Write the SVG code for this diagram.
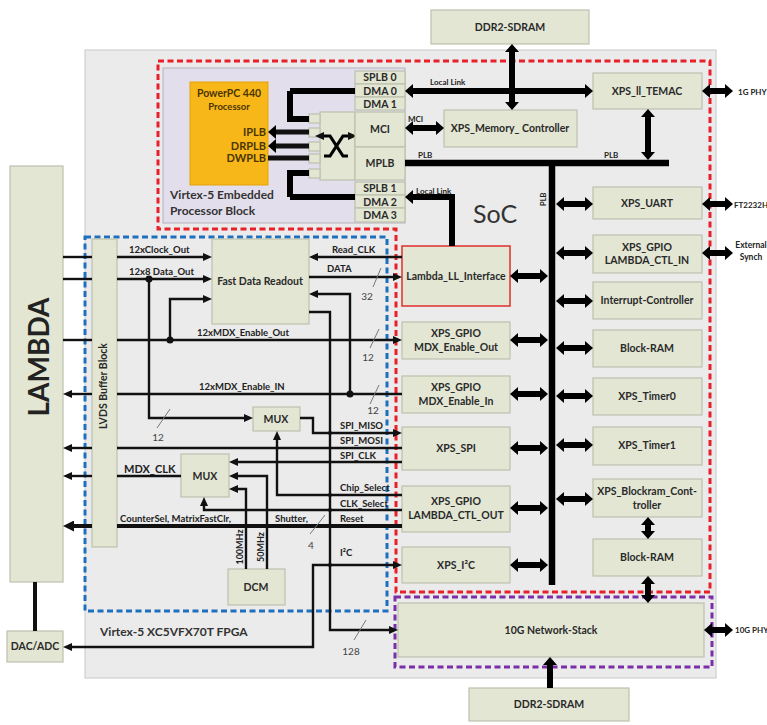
<svg xmlns="http://www.w3.org/2000/svg" width="767" height="725" viewBox="0 0 767 725">
<defs>
<style>
.box{fill:#E2E6D3;stroke:#BDC1AE;stroke-width:1.2}
.t{font-family:Lato,"Liberation Sans",sans-serif;font-weight:bold;font-size:10.5px;fill:#2a2a2a;text-anchor:middle}
.s{font-family:Lato,"Liberation Sans",sans-serif;font-weight:bold;font-size:9.5px;fill:#222}
.n{font-family:Lato,"Liberation Sans",sans-serif;font-size:10px;fill:#444;text-anchor:middle}
.w{fill:none;stroke:#111;stroke-width:2.4}
.wt{fill:none;stroke:#111;stroke-width:4}
.b{fill:none;stroke:#000;stroke-width:6.5}
.da{fill:none;stroke:#000;stroke-width:6;marker-start:url(#hb);marker-end:url(#hb)}
.sl{stroke:#777;stroke-width:1}
</style>
<marker id="hb" viewBox="0 0 8 14" refX="0" refY="7" markerWidth="8" markerHeight="14" markerUnits="userSpaceOnUse" orient="auto-start-reverse"><path d="M0,0 L8,7 L0,14 z" fill="#000"/></marker>
<marker id="ht" viewBox="0 0 9 8" refX="0" refY="4" markerWidth="9" markerHeight="8" markerUnits="userSpaceOnUse" orient="auto-start-reverse"><path d="M0,0 L9,4 L0,8 z" fill="#111"/></marker>
<marker id="hT" viewBox="0 0 11 11" refX="0" refY="5.5" markerWidth="11" markerHeight="11" markerUnits="userSpaceOnUse" orient="auto-start-reverse"><path d="M0,0 L11,5.5 L0,11 z" fill="#111"/></marker>
</defs>
<rect width="767" height="725" fill="#fff"/>

<!-- FPGA background -->
<g id="fpga">
<rect x="85" y="50" width="631" height="628" fill="#EBEBEB" stroke="#CFCFCF" stroke-width="1.2"/>
<text x="100" y="636" class="s" style="font-size:12px;fill:#333">Virtex-5 XC5VFX70T FPGA</text>
</g>

<!-- Processor block -->
<g id="processor-block">
<rect x="163" y="68" width="242" height="155" fill="#E3DEEB" stroke="#B5B0BD" stroke-width="1"/>
<text x="170" y="199" class="s" style="font-size:12px;fill:#333">Virtex-5 Embedded</text>
<text x="170" y="215" class="s" style="font-size:12px;fill:#333">Processor Block</text>
</g>
<g id="ppc440">
<rect x="190" y="82" width="78" height="103" fill="#F8B719" stroke="#E3A20C" stroke-width="1"/>
<text x="229" y="97" class="t" style="fill:#4a3500">PowerPC 440</text>
<text x="229" y="110" class="t" style="font-size:9.5px;fill:#4a3500">Processor</text>
<text x="266" y="136" class="t" style="text-anchor:end;fill:#4a3500;font-size:11px">IPLB</text>
<text x="266" y="150" class="t" style="text-anchor:end;fill:#4a3500;font-size:11px">DRPLB</text>
<text x="266" y="162" class="t" style="text-anchor:end;fill:#4a3500;font-size:11px">DWPLB</text>
</g>
<g id="crossbar">
<rect x="320" y="112" width="35" height="68" class="box"/>
<rect x="309" y="114" width="11" height="9" class="box"/>
<rect x="309" y="128" width="11" height="9" class="box"/>
<rect x="309" y="142" width="11" height="9" class="box"/>
<rect x="309" y="154" width="11" height="9" class="box"/>
<rect x="309" y="169" width="11" height="9" class="box"/>
<path d="M324,136 H330 L343,156 H348 M324,156 H330 L343,136 H348" fill="none" stroke="#000" stroke-width="3.2" marker-start="url(#ht)" marker-end="url(#ht)"/>
</g>
<g id="mci"><rect x="355" y="112" width="50" height="35" class="box"/><text x="380" y="133" class="t">MCI</text></g>
<g id="mplb"><rect x="355" y="147" width="50" height="33" class="box"/><text x="380" y="167" class="t">MPLB</text></g>
<g id="splb0"><rect x="355" y="71" width="50" height="13" class="box"/><text x="380" y="81" class="t">SPLB 0</text></g>
<g id="dma0"><rect x="355" y="84" width="50" height="13" class="box"/><text x="380" y="94.5" class="t">DMA 0</text></g>
<g id="dma1"><rect x="355" y="97" width="50" height="13" class="box"/><text x="380" y="107.5" class="t">DMA 1</text></g>
<g id="splb1"><rect x="355" y="182" width="50" height="13" class="box"/><text x="380" y="192" class="t">SPLB 1</text></g>
<g id="dma2"><rect x="355" y="195" width="50" height="13" class="box"/><text x="380" y="205.5" class="t">DMA 2</text></g>
<g id="dma3"><rect x="355" y="208" width="50" height="14" class="box"/><text x="380" y="219" class="t">DMA 3</text></g>

<!-- dashed regions -->
<g id="regions" fill="none" stroke-width="3" stroke-dasharray="6 3.5">
<path d="M158,61 H710 V592 H396 V229 H158 Z" stroke="#E8202A"/>
<path d="M85,237 H387 V611 H85 Z" stroke="#1F6FBF"/>
<path d="M395,597 H712 V667 H395 Z" stroke="#7A2FA8"/>
</g>
<text x="473" y="223" style="font-family:Lato,'Liberation Sans',sans-serif;font-size:25px;fill:#333">SoC</text>

<!-- external nodes -->
<g id="lambda"><rect x="10" y="166" width="53" height="416" class="box"/><text transform="translate(49,357) rotate(-90)" class="t" style="font-size:28px;fill:#222">LAMBDA</text></g>
<g id="dac-adc"><rect x="7" y="631" width="56" height="31" class="box"/><text x="35" y="650" class="t">DAC/ADC</text></g>
<g id="ddr2-top"><rect x="431" y="10" width="158" height="34" class="box"/><text x="510" y="31" class="t">DDR2-SDRAM</text></g>
<g id="ddr2-bottom"><rect x="469" y="688" width="160" height="33" class="box"/><text x="549" y="708" class="t">DDR2-SDRAM</text></g>

<!-- FPGA internal nodes -->
<g id="lvds"><rect x="92" y="239" width="25" height="308" class="box"/><text transform="translate(107,386) rotate(-90)" class="t" style="font-size:10.5px">LVDS Buffer Block</text></g>
<g id="fdr"><rect x="212" y="239" width="97" height="85" class="box"/><text x="260" y="285" class="t">Fast  Data Readout</text></g>
<g id="mux1"><rect x="253" y="407" width="47" height="24" class="box"/><text x="276" y="423" class="t">MUX</text></g>
<g id="mux2"><rect x="181" y="454" width="48" height="43" class="box"/><text x="205" y="480" class="t">MUX</text></g>
<g id="dcm"><rect x="228" y="569" width="57" height="36" class="box"/><text x="256" y="591" class="t">DCM</text></g>

<g id="xps-memory-controller"><rect x="444" y="110" width="133" height="37" class="box"/><text x="510" y="132" class="t">XPS_Memory_ Controller</text></g>
<g id="xps-ll-temac"><rect x="593" y="73" width="109" height="36" class="box"/><text x="647" y="95" class="t">XPS_ll_TEMAC</text></g>
<g id="xps-uart"><rect x="593" y="187" width="109" height="32" class="box"/><text x="647" y="207" class="t">XPS_UART</text></g>
<g id="xps-gpio-ctl-in"><rect x="593" y="235" width="109" height="38" class="box"/><text x="647" y="251" class="t">XPS_GPIO</text><text x="647" y="264" class="t">LAMBDA_CTL_IN</text></g>
<g id="interrupt-controller"><rect x="593" y="282" width="109" height="37" class="box"/><text x="647" y="304" class="t">Interrupt-Controller</text></g>
<g id="block-ram-1"><rect x="593" y="330" width="109" height="37" class="box"/><text x="647" y="352" class="t">Block-RAM</text></g>
<g id="xps-timer0"><rect x="593" y="378" width="109" height="37" class="box"/><text x="647" y="400" class="t">XPS_Timer0</text></g>
<g id="xps-timer1"><rect x="593" y="427" width="109" height="38" class="box"/><text x="647" y="449" class="t">XPS_Timer1</text></g>
<g id="xps-blockram-controller"><rect x="593" y="479" width="109" height="38" class="box"/><text x="647" y="495" class="t">XPS_Blockram_Cont-</text><text x="647" y="509" class="t">troller</text></g>
<g id="block-ram-2"><rect x="593" y="539" width="109" height="37" class="box"/><text x="647" y="561" class="t">Block-RAM</text></g>

<g id="lambda-ll-interface"><rect x="402" y="246" width="108" height="60" fill="#E2E6D3" stroke="#E0302E" stroke-width="1.5"/><text x="456" y="280" class="t">Lambda_LL_Interface</text></g>
<g id="xps-gpio-mdx-out"><rect x="402" y="322" width="108" height="37" class="box"/><text x="456" y="337" class="t">XPS_GPIO</text><text x="456" y="351" class="t">MDX_Enable_Out</text></g>
<g id="xps-gpio-mdx-in"><rect x="402" y="376" width="108" height="37" class="box"/><text x="456" y="391" class="t">XPS_GPIO</text><text x="456" y="405" class="t">MDX_Enable_In</text></g>
<g id="xps-spi"><rect x="402" y="427" width="108" height="43" class="box"/><text x="456" y="452" class="t">XPS_SPI</text></g>
<g id="xps-gpio-ctl-out"><rect x="402" y="486" width="108" height="46" class="box"/><text x="456" y="505" class="t">XPS_GPIO</text><text x="456" y="519" class="t">LAMBDA_CTL_OUT</text></g>
<g id="xps-i2c"><rect x="402" y="547" width="108" height="36" class="box"/><text x="456" y="569" class="t">XPS_I²C</text></g>
<g id="network-stack-10g"><rect x="398" y="603" width="306" height="54" class="box"/><text x="551" y="634" class="t">10G Network-Stack</text></g>

<!-- connectors -->
<g id="connectors">
<!-- buses -->
<path class="b" d="M405,163 H669"/>
<path class="b" d="M552,160 V585"/>
<path class="da" d="M413,91 H585"/>
<path class="da" d="M512,52 V102"/>
<path class="da" d="M413,128 H436"/>
<path class="da" d="M648,117 V152"/>
<path class="da" d="M710,91 H725"/>
<path fill="none" stroke="#000" stroke-width="6" marker-start="url(#hb)" d="M413,197 H452 V246"/>
<path fill="none" stroke="#000" stroke-width="6" d="M290,91 H355 M290,91 V119 H309 M290,197 H355 M290,197 V173 H309"/>
<path fill="none" stroke="#000" stroke-width="5" d="M290,91 V119 M290,197 V173"/>
<path class="w" style="stroke-width:5" marker-end="url(#hb)" d="M309,132 H276"/>
<path class="w" style="stroke-width:5" marker-end="url(#hb)" d="M309,146 H276"/>
<path class="w" style="stroke-width:5" d="M309,158 H268"/>
<!-- right column -->
<path class="da" d="M564,204 H585"/>
<path class="da" d="M564,253 H585"/>
<path class="da" d="M564,301 H585"/>
<path class="da" d="M564,348 H585"/>
<path class="da" d="M564,396 H585"/>
<path class="da" d="M564,445 H585"/>
<path class="da" d="M564,499 H585"/>
<path class="da" d="M648,525 V531"/>
<path class="da" d="M648,584 V595"/>
<path class="da" d="M710,204 H725"/>
<path class="da" d="M710,253 H725"/>
<path class="da" d="M712,630 H725"/>
<path fill="none" stroke="#000" stroke-width="6" marker-start="url(#hb)" d="M550,665 V688"/>
<!-- left column -->
<path class="da" d="M518,276 H540"/>
<path class="da" d="M518,340 H540"/>
<path class="da" d="M518,394 H540"/>
<path class="da" d="M518,448 H540"/>
<path class="da" d="M518,508 H540"/>
<path class="da" d="M518,565 H540"/>
<!-- LAMBDA link -->
<path fill="none" stroke="#111" stroke-width="4" d="M35,582 V631"/>
<!-- signals -->
<path class="w" d="M63,257 H92"/>
<path class="w" marker-end="url(#ht)" d="M117,257 H203"/>
<path class="w" d="M63,279 H92"/>
<path class="w" marker-end="url(#ht)" d="M117,279 H203"/>
<path class="w" marker-end="url(#ht)" d="M149,279 V418 H244"/>
<path class="w" d="M63,340 H92"/>
<path class="w" marker-end="url(#ht)" d="M117,340 H393"/>
<path class="w" marker-end="url(#ht)" d="M170,340 V299 H203"/>
<path class="w" d="M402,394 H117"/>
<path class="w" marker-end="url(#ht)" d="M92,394 H72"/>
<path class="w" marker-end="url(#ht)" d="M350,394 V294 H318"/>
<path class="w" marker-end="url(#ht)" d="M402,257 H318"/>
<path class="w" marker-end="url(#ht)" d="M309,277 H393"/>
<path class="w" marker-end="url(#ht)" d="M309,312 H330 V630 H389"/>
<path class="w" marker-end="url(#ht)" d="M300,418 H313 V433 H393"/>
<path class="w" d="M402,448 H117"/>
<path class="w" marker-end="url(#ht)" d="M92,448 H72"/>
<path class="w" marker-end="url(#ht)" d="M402,462 H238"/>
<path class="w" d="M181,476 H117"/>
<path class="w" marker-end="url(#ht)" d="M92,476 H72"/>
<path class="w" marker-end="url(#ht)" d="M267,569 V476 H238"/>
<path class="w" marker-end="url(#ht)" d="M246,569 V489 H238"/>
<path class="w" marker-end="url(#ht)" d="M402,495 H277 V440"/>
<path class="w" marker-end="url(#ht)" d="M402,510 H204 V506"/>
<path class="wt" d="M402,526 H117"/>
<path class="wt" marker-end="url(#hT)" d="M92,526 H74"/>
<path class="w" marker-start="url(#ht)" marker-end="url(#ht)" d="M393,565 H313 V647 H72"/>
<!-- junction dots -->
<circle cx="149" cy="279" r="3.5" fill="#111"/>
<circle cx="170" cy="340" r="3.5" fill="#111"/>
<circle cx="350" cy="394" r="3.5" fill="#111"/>
<circle cx="330" cy="433" r="2" fill="#111"/>
<circle cx="330" cy="495" r="2" fill="#111"/>
<circle cx="330" cy="510" r="2" fill="#111"/>
<circle cx="330" cy="565" r="2" fill="#111"/>
<!-- bus-width slashes -->
<line class="sl" x1="373" y1="287" x2="381" y2="268"/>
<line class="sl" x1="370" y1="348" x2="379" y2="329"/>
<line class="sl" x1="370" y1="404" x2="379" y2="385"/>
<line class="sl" x1="157" y1="428" x2="170" y2="409"/>
<line class="sl" x1="310" y1="534" x2="325" y2="515"/>
<line class="sl" x1="354" y1="640" x2="366" y2="620"/>
</g>

<!-- labels -->
<g id="labels">
<text x="430" y="85" class="s" style="font-size:8px">Local Link</text>
<text x="416" y="194" class="s" style="font-size:8px">Local Link</text>
<text x="408" y="122" class="s" style="font-size:8px">MCI</text>
<text x="418" y="158" class="s" style="font-size:8px">PLB</text>
<text x="604" y="158" class="s" style="font-size:8px">PLB</text>
<text transform="translate(546,206) rotate(-90)" class="s" style="font-size:7.5px">PLB</text>
<text x="738" y="95" class="s" style="font-size:8px">1G PHY</text>
<text x="734" y="208" class="s" style="font-size:8px">FT2232H</text>
<text x="751" y="248" class="s" style="font-size:8.5px;text-anchor:middle">External</text>
<text x="751" y="260" class="s" style="font-size:8.5px;text-anchor:middle">Synch</text>
<text x="735" y="633" class="s" style="font-size:8px">10G PHY</text>
<text x="129" y="253" class="s">12xClock_Out</text>
<text x="129" y="275" class="s">12x8 Data_Out</text>
<text x="197" y="336" class="s">12xMDX_Enable_Out</text>
<text x="199" y="390" class="s">12xMDX_Enable_IN</text>
<text x="332" y="253" class="s">Read_CLK</text>
<text x="327" y="272" class="s">DATA</text>
<text x="340" y="429" class="s">SPI_MISO</text>
<text x="340" y="444" class="s">SPI_MOSI</text>
<text x="340" y="459" class="s">SPI_CLK</text>
<text x="124" y="473" class="s" style="font-size:11px">MDX_CLK</text>
<text x="340" y="491" class="s">Chip_Select</text>
<text x="340" y="507" class="s">CLK_Select</text>
<text x="120" y="522" class="s">CounterSel, MatrixFastClr,</text>
<text x="275" y="522" class="s">Shutter,</text>
<text x="340" y="522" class="s">Reset</text>
<text x="340" y="556" class="s">I²C</text>
<text transform="translate(243,547) rotate(-90)" class="s" style="text-anchor:middle;font-size:9px">100MHz</text>
<text transform="translate(264,547) rotate(-90)" class="s" style="text-anchor:middle;font-size:9px">50MHz</text>
<text x="367" y="300" class="n">32</text>
<text x="368" y="361" class="n">12</text>
<text x="373" y="414" class="n">12</text>
<text x="158" y="441" class="n">12</text>
<text x="311" y="549" class="n">4</text>
<text x="351" y="655" class="n">128</text>
</g>
</svg>
